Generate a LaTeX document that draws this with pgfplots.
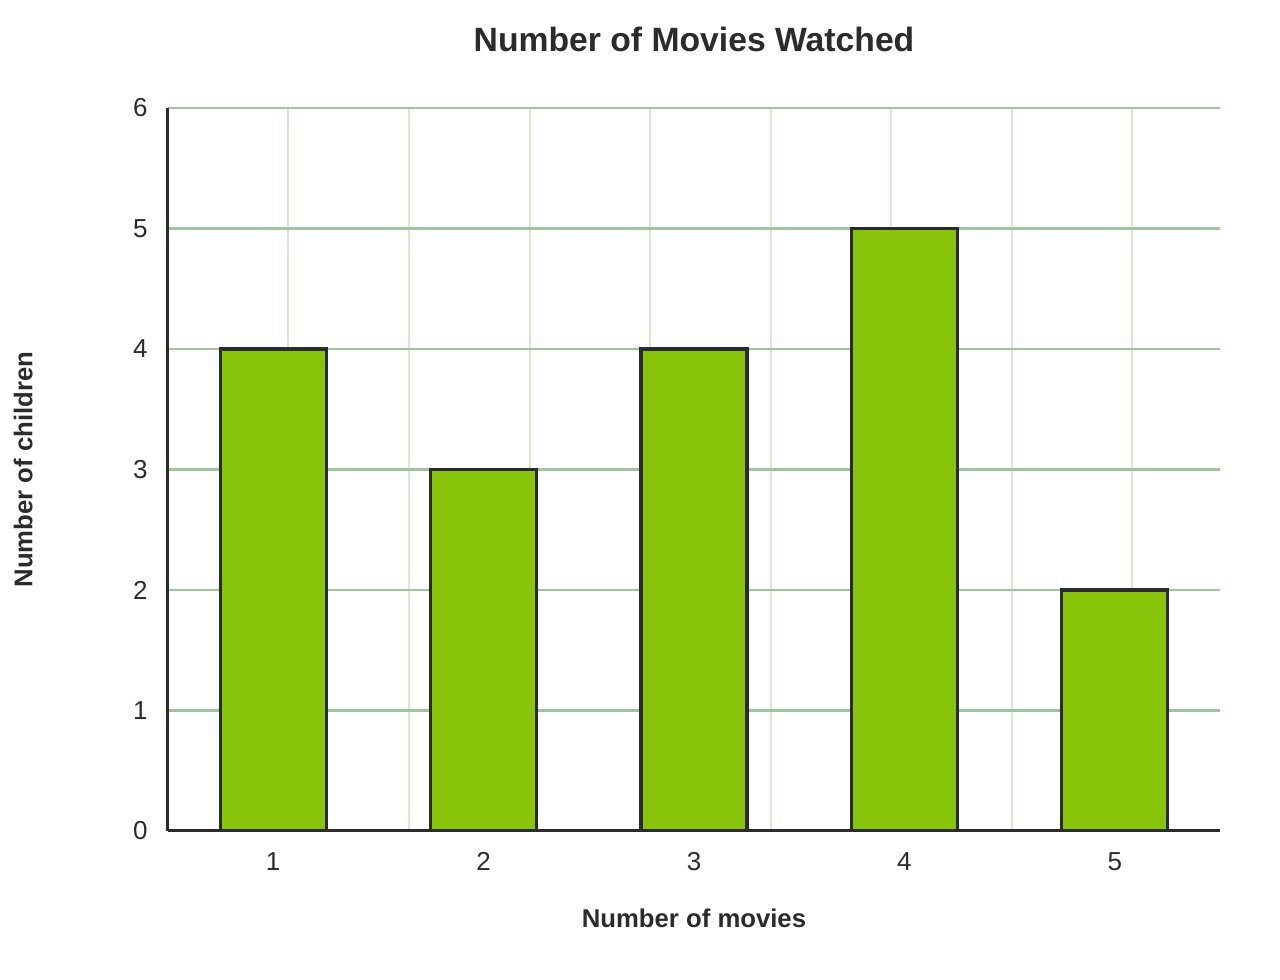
\documentclass[border=0pt]{standalone}
\usepackage{pgfplots}
\pgfplotsset{compat=1.18}
\usepackage{fontspec}
\setmainfont{Liberation Sans}
\definecolor{txt}{HTML}{2B2B2B}
\definecolor{barfill}{HTML}{88C50A}
\definecolor{hgrid}{HTML}{A0C4A0}
\definecolor{vgrid}{HTML}{D8EACE}
\begin{document}
\begin{tikzpicture}
\useasboundingbox (0,0) rectangle (640pt,490pt);
\begin{axis}[
  at={(84pt,74.5pt)}, anchor=south west,
  scale only axis, width=526pt, height=361.5pt,
  xmin=0, xmax=5, ymin=0, ymax=6,
  axis x line=bottom, axis y line=left,
  axis line style={-, line width=1.5pt, draw=txt},
  xtick={0.5,1.5,2.5,3.5,4.5}, xticklabels={1,2,3,4,5},
  ytick={0,1,2,3,4,5,6},
  minor xtick={0.57272,1.14545,1.71818,2.29091,2.86364,3.43636,4.00909,4.58182},
  xmajorgrids=false, xminorgrids=true, ymajorgrids=true,
  major grid style={draw=hgrid, line width=1.25pt},
  minor grid style={draw=vgrid, line width=1pt},
  major tick length=0pt, minor tick length=0pt,
  tick style={draw=none},
  /pgf/number format/assume math mode=true,
  ticklabel style={font=\fontsize{13pt}{15pt}\selectfont, text=txt, inner sep=0pt},
  yticklabel style={anchor=east, xshift=-10pt},
  xticklabel style={anchor=north, yshift=-10.65pt},
  title={Number of Movies Watched},
  title style={at={(axis description cs:0.5,1)}, anchor=base, yshift=22.15pt, font=\bfseries\fontsize{16.85pt}{19pt}\selectfont, text=txt},
  xlabel={Number of movies},
  xlabel style={at={(axis description cs:0.5,0)}, anchor=base, yshift=-48.5pt, font=\bfseries\fontsize{12.85pt}{15pt}\selectfont, text=txt},
  ylabel={Number of children},
  ylabel style={at={(axis description cs:-0.129,0.5)}, anchor=base, rotate=0, font=\bfseries\fontsize{12.85pt}{15pt}\selectfont, text=txt},
  ybar, bar width=0.504,
]
\addplot[fill=barfill, draw=txt, line width=1.6pt] coordinates {
  (0.5,4) (1.5,3) (2.5,4) (3.5,5) (4.5,2)
};
\end{axis}
\end{tikzpicture}
\end{document}
